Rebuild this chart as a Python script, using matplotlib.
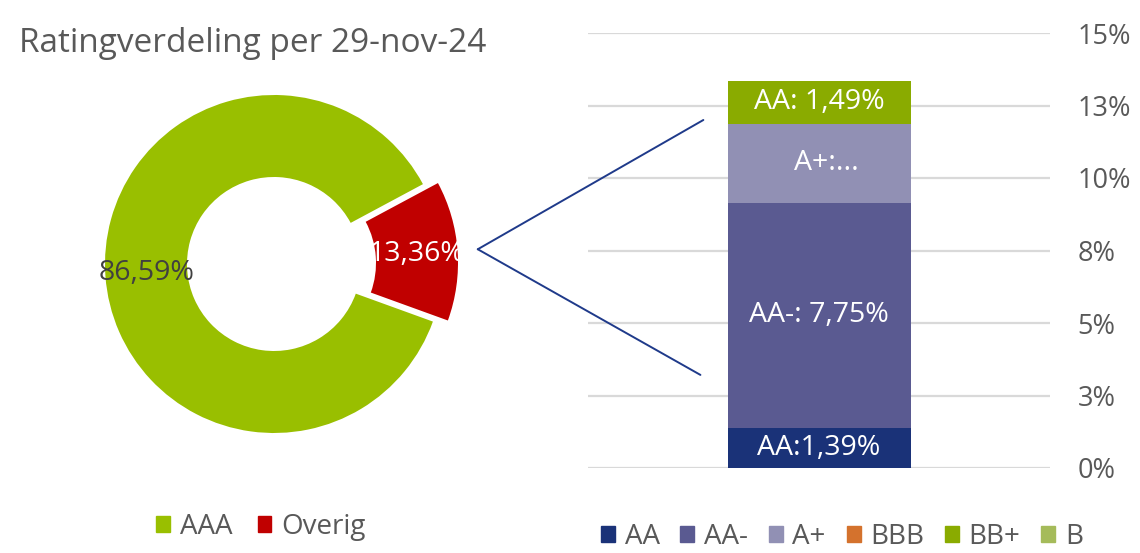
import matplotlib
matplotlib.use("Agg")
import matplotlib.pyplot as plt
import matplotlib.transforms as mtransforms
import numpy as np
from matplotlib.patches import ConnectionPatch, Patch

plt.rcParams['font.family'] = ['Open Sans', 'DejaVu Sans']

# ---- data ----
title = "Ratingverdeling per 29-nov-24"
pie_labels = ["AAA", "Overig"]
pie_values = [86.59, 13.36]
pie_texts = ["86,59%", "13,36%"]

bar_labels = ["AA", "AA-", "A+", "BBB", "BB+", "B"]
bar_values = [1.39, 7.75, 2.73, 0.0, 1.49, 0.0]
bar_texts = ["AA:1,39%", "AA-: 7,75%", "A+:...", "", "AA: 1,49%", ""]
ytick_vals = [0, 2.5, 5, 7.5, 10, 12.5, 15]
ytick_labels = ["0%", "3%", "5%", "8%", "10%", "13%", "15%"]

pie_colors = ["#99bf00", "#c00000"]
bar_colors = ["#1a3278", "#5a5a91", "#9190b4", "#d4722d", "#8aab00", "#a5bb5a"]
gray = "#595959"

W, H = 1140, 553
fig = plt.figure(figsize=(W / 100, H / 100), dpi=100)

def fx(px):
    return px / W

def fy(py):
    return 1 - py / H

# ---- title ----
fig.text(fx(19), fy(44), title, fontsize=24, color=gray, ha="left", va="center")

# ---- donut ----
cx, cy, R, Rin = 274, 264, 169, 87
half = 210
axd = fig.add_axes([fx(cx - half), fy(cy + half), 2 * half / W, 2 * half / H])
explode = [0, 0.089]
wedges, _ = axd.pie(pie_values, colors=pie_colors, startangle=28.2, counterclock=True,
                    explode=explode, radius=1,
                    wedgeprops=dict(width=1 - Rin / R, linewidth=0))
lim = half / R
axd.set_xlim(-lim, lim)
axd.set_ylim(-lim, lim)
axd.set_aspect("equal")
axd.axis("off")
mid_r = (1 + Rin / R) / 2
txt_colors = ["#404040", "white"]
for w, t, c in zip(wedges, pie_texts, txt_colors):
    ang = np.deg2rad((w.theta1 + w.theta2) / 2)
    cxw, cyw = w.center
    axd.text(cxw + mid_r * np.cos(ang), cyw + mid_r * np.sin(ang), t,
             ha="center", va="center", fontsize=20.5, color=c)

# ---- stacked bar ----
axb = fig.add_axes([fx(588), fy(468), fx(1050) - fx(588), fy(33) - fy(468)])
bw = 0.5
axb.set_xlim(-bw / 2 * 462 / 183, bw / 2 * 462 / 183)
axb.set_ylim(0, 15)
bottom = 0
for lab, v, col, t in zip(bar_labels, bar_values, bar_colors, bar_texts):
    axb.bar(0, v, bottom=bottom, width=bw, color=col, label=lab, zorder=3, linewidth=0)
    if t:
        dx = 0.02 if t.endswith("...") else 0
        axb.text(dx, bottom + v / 2, t, ha="center", va="center", color="white",
                 fontsize=20.5, zorder=4)
    bottom += v
axb.set_yticks(ytick_vals)
axb.set_yticklabels(ytick_labels)
axb.yaxis.tick_right()
axb.tick_params(axis="y", length=0, pad=20, labelsize=19.5, labelcolor=gray)
axb.set_xticks([])
for s in axb.spines.values():
    s.set_visible(False)
axb.grid(axis="y", color="#d9d9d9", linewidth=1.6, zorder=0)
axb.set_axisbelow(True)

# ---- connector lines ----
red = wedges[1]
ang = np.deg2rad((red.theta1 + red.theta2) / 2)
vx = red.center[0] + 1.12 * np.cos(ang)
vy = red.center[1] + 1.12 * np.sin(ang)
blend = mtransforms.blended_transform_factory(axb.transData, axb.transAxes)
for yfrac, gap in ((0.80, 0.066), (0.214, 0.074)):
    con = ConnectionPatch(xyA=(vx, vy), coordsA=axd.transData,
                          xyB=(-bw / 2 - gap, yfrac), coordsB=blend,
                          color="#1f3a8a", linewidth=1.4)
    fig.add_artist(con)

# ---- legends ----
fig.legend(handles=[Patch(color=c, label=l) for c, l in zip(pie_colors, pie_labels)],
           loc="center", bbox_to_anchor=(fx(261), fy(527)), ncol=2, frameon=False,
           fontsize=20, handlelength=0.5, handleheight=0.5, handletextpad=0.35,
           columnspacing=0.9, labelcolor=gray)
fig.legend(handles=[Patch(color=c, label=l) for c, l in zip(bar_colors, bar_labels)],
           loc="center", bbox_to_anchor=(fx(842), fy(537)), ncol=6, frameon=False,
           fontsize=20, handlelength=0.5, handleheight=0.5, handletextpad=0.35,
           columnspacing=0.75, labelcolor=gray, borderpad=0.1)

fig.savefig("out.png", dpi=100)
